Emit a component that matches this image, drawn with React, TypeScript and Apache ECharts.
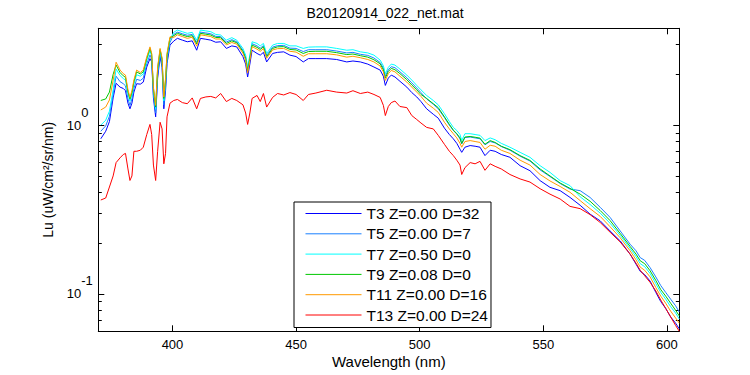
import { useEffect, useRef } from "react";
import * as echarts from "echarts";

const FONT = "Liberation Sans";

const wavelengths = [
  371, 373, 374.5, 376, 377.2, 378.8, 380.1, 381, 382, 382.8,
  383.6, 384.4, 385.5, 387, 388.2, 389.6, 390.9, 391.6, 392.3, 393.2,
  394, 395, 395.8, 396.5, 397.2, 397.8, 399,
  400.5, 402, 404, 406, 408, 409.8, 411.3, 413.5, 415.5, 417.5,
  419.5, 421.8, 424, 426, 428.5, 429.6, 430.4, 431.3, 432.2, 434.2,
  435.5, 436.8, 438.1, 440.5, 442.5, 445, 447.5, 450, 452.9, 455,
  458, 462.4, 466.4, 470.5, 473, 476, 479, 481.5, 484, 485.3,
  486.1, 487.3, 488.5, 490, 492, 494.8, 496.8, 498.8, 500.5,
  502.8, 505.5, 507.5, 510, 512, 513.6, 515, 516.3, 517, 518.3,
  520.4, 522.4, 524.4, 526.4, 528.5, 530.5, 533, 536.5, 540.6, 544.6,
  548.7, 552.7, 556.8, 560.8,
  564.9, 568.9, 573, 577, 581.1, 585.1, 587.5, 589.2, 591, 593.2, 595.5, 597.5, 599.5, 601.5, 603.5, 605,
];

const t3 = [
  0.83, 0.92, 1.05, 1.45, 1.77, 1.68, 1.65, 1.60, 1.35, 1.25,
  1.35, 1.57, 1.76, 1.75, 1.80, 2.21, 2.48, 2.37, 1.45, 1.12,
  1.90, 2.54, 2.20, 1.25, 1.60, 2.32, 2.98,
  3.15, 3.27, 3.19, 3.12, 3.16, 2.78, 3.27, 3.23, 3.19, 3.10,
  3.12, 2.85, 2.95, 2.91, 2.55, 2.30, 1.93, 2.30, 2.78, 2.66,
  2.60, 2.70, 2.37, 2.66, 2.70, 2.72, 2.60, 2.55, 2.37, 2.48,
  2.48, 2.48, 2.45, 2.37, 2.40, 2.37, 2.30, 2.21, 2.12, 1.95,
  1.72, 1.90, 1.98, 1.93, 1.82, 1.68, 1.56, 1.47, 1.38,
  1.25, 1.16, 1.10, 0.96, 0.88, 0.83, 0.78, 0.72, 0.69, 0.74,
  0.757, 0.75, 0.74, 0.66, 0.71, 0.70, 0.67, 0.645, 0.575, 0.537,
  0.469, 0.428, 0.409, 0.373,
  0.335, 0.297, 0.271, 0.236, 0.206, 0.172, 0.150, 0.136, 0.130, 0.119, 0.102, 0.090, 0.082, 0.073, 0.067, 0.062,
];

const t5 = [
  0.92, 0.99, 1.13, 1.53,
  1.95, 1.81, 1.76, 1.71, 1.43, 1.31, 1.43, 1.65, 1.87, 1.84, 1.90, 2.31, 2.61, 2.46, 1.52, 1.18, 1.99, 2.63, 2.29, 1.32, 1.69, 2.42, 3.09,
  3.45, 3.56, 3.48, 3.41, 3.45, 3.09, 3.56, 3.52, 3.48, 3.36,
  3.35, 3.11, 3.21, 3.12, 2.78, 2.53, 2.14, 2.53, 3.04, 2.95,
  2.86, 2.96, 2.59, 2.90, 2.96, 2.97, 2.86, 2.85, 2.73, 2.80,
  2.80, 2.80, 2.75, 2.68, 2.70, 2.63, 2.59, 2.50, 2.35, 2.18,
  1.95, 2.13, 2.22, 2.19, 2.07, 1.91, 1.78, 1.66, 1.56,
  1.43, 1.33, 1.25, 1.11, 1.00, 0.93, 0.885, 0.83, 0.774, 0.845,
  0.85, 0.84, 0.83, 0.765, 0.80, 0.785, 0.747, 0.71, 0.655, 0.613,
  0.543, 0.496, 0.451, 0.418,
  0.409, 0.373, 0.326, 0.284, 0.236, 0.197, 0.180, 0.164, 0.158, 0.143, 0.126, 0.112, 0.102, 0.093, 0.085, 0.078,
];

const t7 = [
  1.00, 1.07, 1.21, 1.62,
  2.15, 1.97, 1.89, 1.85, 1.53, 1.39, 1.51, 1.75, 1.99, 1.95, 2.01, 2.42, 2.76, 2.56, 1.60, 1.24, 2.10, 2.74, 2.40, 1.39, 1.80, 2.54, 3.21,
  3.55, 3.66, 3.58, 3.50, 3.55, 3.19, 3.66, 3.62, 3.58, 3.45,
  3.42, 3.19, 3.30, 3.19, 2.85, 2.60, 2.21, 2.60, 3.12, 3.05,
  2.95, 3.05, 2.66, 2.98, 3.05, 3.05, 2.95, 2.95, 2.85, 2.90,
  2.91, 2.91, 2.85, 2.78, 2.80, 2.72, 2.68, 2.60, 2.43, 2.25,
  2.02, 2.20, 2.30, 2.27, 2.15, 1.98, 1.85, 1.72, 1.62,
  1.50, 1.40, 1.32, 1.17, 1.05, 0.97, 0.93, 0.88, 0.81, 0.89,
  0.89, 0.88, 0.87, 0.81, 0.84, 0.82, 0.78, 0.74, 0.69, 0.645,
  0.575, 0.525, 0.469, 0.438,
  0.376, 0.339, 0.301, 0.262, 0.222, 0.186, 0.166, 0.151, 0.145, 0.132, 0.115, 0.102, 0.093, 0.084, 0.077, 0.071,
];

const t9 = [
  1.40, 1.43, 1.57, 2.00,
  2.27, 2.05, 1.96, 1.92, 1.58, 1.43, 1.56, 1.81, 2.07, 2.01, 2.07, 2.49, 2.85, 2.62, 1.65, 1.28, 2.16, 2.80, 2.46, 1.44, 1.86, 2.61, 3.29,
  3.39, 3.50, 3.42, 3.35, 3.39, 3.03, 3.50, 3.46, 3.42, 3.31,
  3.30, 3.05, 3.16, 3.08, 2.73, 2.48, 2.10, 2.48, 2.98, 2.89,
  2.81, 2.91, 2.54, 2.85, 2.91, 2.92, 2.81, 2.79, 2.66, 2.73,
  2.74, 2.74, 2.69, 2.62, 2.64, 2.58, 2.53, 2.44, 2.31, 2.13,
  1.90, 2.08, 2.17, 2.13, 2.02, 1.86, 1.73, 1.62, 1.52,
  1.44, 1.34, 1.27, 1.12, 1.01, 0.935, 0.89, 0.84, 0.78, 0.85,
  0.857, 0.848, 0.838, 0.77, 0.81, 0.79, 0.75, 0.716, 0.66, 0.618,
  0.55, 0.50, 0.454, 0.422,
  0.39, 0.354, 0.312, 0.272, 0.228, 0.191, 0.172, 0.157, 0.151, 0.137, 0.12, 0.106, 0.097, 0.088, 0.080, 0.074,
];

const t11 = [
  1.23, 1.28, 1.41, 1.84,
  2.36, 2.12, 2.02, 1.98, 1.62, 1.46, 1.60, 1.85, 2.12, 2.05, 2.12, 2.54, 2.91, 2.66, 1.68, 1.31, 2.21, 2.85, 2.50, 1.47, 1.90, 2.66, 3.34,
  3.31, 3.43, 3.35, 3.27, 3.32, 2.94, 3.43, 3.39, 3.35, 3.24,
  3.24, 2.99, 3.09, 3.02, 2.67, 2.42, 2.04, 2.42, 2.92, 2.82,
  2.74, 2.84, 2.49, 2.79, 2.84, 2.85, 2.74, 2.71, 2.56, 2.65,
  2.65, 2.65, 2.61, 2.53, 2.56, 2.51, 2.45, 2.37, 2.24, 2.07,
  1.84, 2.02, 2.11, 2.07, 1.95, 1.80, 1.68, 1.57, 1.48,
  1.35, 1.26, 1.19, 1.04, 0.95, 0.89, 0.84, 0.78, 0.74, 0.80,
  0.81, 0.80, 0.79, 0.72, 0.76, 0.75, 0.71, 0.68, 0.62, 0.58,
  0.51, 0.467, 0.433, 0.40,
  0.357, 0.32, 0.288, 0.25, 0.215, 0.18, 0.159, 0.144, 0.138, 0.126, 0.109, 0.097, 0.088, 0.079, 0.072, 0.067,
];

const t13 = [
  0.36, 0.37, 0.43, 0.50, 0.60, 0.64, 0.67, 0.68, 0.55, 0.47,
  0.50, 0.70, 0.70, 0.71, 0.74, 0.88, 1.01, 0.88, 0.58, 0.47,
  0.70, 1.04, 0.95, 0.59, 0.68, 1.12, 1.35,
  1.40, 1.42, 1.36, 1.34, 1.45, 1.25, 1.44, 1.47, 1.48, 1.45,
  1.54, 1.38, 1.44, 1.40, 1.32, 1.18, 1.01, 1.18, 1.44, 1.50,
  1.38, 1.54, 1.28, 1.46, 1.54, 1.51, 1.56, 1.52, 1.40, 1.52,
  1.55, 1.61, 1.57, 1.55, 1.60, 1.54, 1.57, 1.52, 1.46, 1.31,
  1.14, 1.29, 1.36, 1.39, 1.29, 1.27, 1.14, 1.08, 1.03,
  0.97, 0.95, 0.87, 0.77, 0.70, 0.66, 0.62, 0.58, 0.51, 0.56,
  0.60, 0.59, 0.61, 0.54, 0.59, 0.57, 0.55, 0.51, 0.48, 0.46,
  0.42, 0.39, 0.365, 0.33,
  0.32, 0.295, 0.265, 0.232, 0.203, 0.172, 0.152, 0.138, 0.128, 0.117, 0.104, 0.092, 0.082, 0.073, 0.065, 0.060,
];

const seriesNames = [
  "T3 Z=0.00 D=32",
  "T5 Z=0.00 D=7",
  "T7 Z=0.50 D=0",
  "T9 Z=0.08 D=0",
  "T11 Z=0.00 D=16",
  "T13 Z=0.00 D=24",
];
const seriesValues = [t3, t5, t7, t9, t11, t13];
const seriesColors = ["#0000ff", "#1a80ff", "#00ffff", "#00c800", "#ff9900", "#ff0000"];

const xTickValues = [400, 450, 500, 550, 600];
const yMajorTicks = [0.1, 1];
const yMinorTicks = [0.07, 0.08, 0.09, 0.2, 0.3, 0.4, 0.5, 0.6, 0.7, 0.8, 0.9, 2, 3];

const titleText = "B20120914_022_net.mat";
const xName = "Wavelength (nm)";
const yName = "Lu (uW/cm²/sr/nm)";

export default function App() {
  const ref = useRef<HTMLDivElement>(null);

  useEffect(() => {
    const chart = echarts.init(ref.current!, null, { renderer: "svg" });

    const logBase = { type: "log" as const, logBase: 10, min: 0.06, max: 3.75, splitLine: { show: false } };

    const yAxes = [
      {
        ...logBase,
        position: "left",
        name: yName,
        nameLocation: "middle",
        nameGap: 43,
        nameMoveOverlap: false,
        nameTextStyle: { fontFamily: FONT, fontSize: 14, color: "#000" },
        axisLine: { show: true, lineStyle: { color: "#000", width: 1 } },
        axisTick: { show: true, inside: true, length: 6, customValues: yMajorTicks, lineStyle: { color: "#000" } },
        axisLabel: {
          show: true,
          customValues: yMajorTicks,
          align: "left",
          margin: 31.6,
          formatter: (v: number) => `{b|10}{s|${Math.round(Math.log10(v))}}`,
          rich: {
            b: { fontFamily: FONT, fontSize: 13, color: "#000" },
            s: { fontFamily: FONT, fontSize: 13, color: "#000", padding: [0, 0, 26, 0] },
          },
        },
      },
      {
        ...logBase,
        position: "left",
        axisLine: { show: false },
        axisTick: { show: true, inside: true, length: 3.5, customValues: yMinorTicks, lineStyle: { color: "#000" } },
        axisLabel: { show: false },
      },
      {
        ...logBase,
        position: "right",
        axisLine: { show: true, lineStyle: { color: "#000", width: 1 } },
        axisTick: { show: true, inside: true, length: 6, customValues: yMajorTicks, lineStyle: { color: "#000" } },
        axisLabel: { show: false },
      },
      {
        ...logBase,
        position: "right",
        axisLine: { show: false },
        axisTick: { show: true, inside: true, length: 3.5, customValues: yMinorTicks, lineStyle: { color: "#000" } },
        axisLabel: { show: false },
      },
    ];

    const xAxes = [
      {
        type: "value",
        min: 370,
        max: 605,
        position: "bottom",
        name: xName,
        nameLocation: "middle",
        nameGap: 23,
        nameMoveOverlap: false,
        nameTextStyle: { fontFamily: FONT, fontSize: 15, color: "#000" },
        splitLine: { show: false },
        axisLine: { show: true, onZero: false, lineStyle: { color: "#000", width: 1 } },
        axisTick: { show: true, inside: true, length: 6, customValues: xTickValues, lineStyle: { color: "#000" } },
        axisLabel: { show: true, customValues: xTickValues, margin: 7, fontFamily: FONT, fontSize: 13, color: "#000" },
      },
      {
        type: "value",
        min: 370,
        max: 605,
        position: "top",
        splitLine: { show: false },
        axisLine: { show: true, onZero: false, lineStyle: { color: "#000", width: 1 } },
        axisTick: { show: true, inside: true, length: 6, customValues: xTickValues, lineStyle: { color: "#000" } },
        axisLabel: { show: false },
      },
    ];

    const series = seriesNames.map((name, i) => ({
      name,
      type: "line",
      xAxisIndex: 0,
      yAxisIndex: 0,
      data: wavelengths.map((w, j) => [w, seriesValues[i][j]]),
      showSymbol: false,
      symbol: "none",
      color: seriesColors[i],
      lineStyle: { color: seriesColors[i], width: 1 },
      clip: true,
      z: 2 + i,
    }));

    chart.setOption({
      animation: false,
      backgroundColor: "#fff",
      textStyle: { fontFamily: FONT },
      grid: { left: 98.3, right: 70.7, top: 28.3, bottom: 43.7, outerBoundsMode: "none" },
      graphic: [
        {
          type: "text",
          x: 385,
          y: 12.5,
          style: {
            text: titleText,
            fontFamily: FONT,
            fontSize: 14,
            fill: "#000",
            textAlign: "center",
            textVerticalAlign: "middle",
          },
        },
      ],
      legend: {
        orient: "vertical",
        left: 294,
        top: 202,
        padding: [3.5, 3, 4.5, 11],
        itemWidth: 56,
        itemHeight: 14,
        itemGap: 4.3,
        backgroundColor: "#fff",
        borderColor: "#000",
        borderWidth: 1,
        borderRadius: 0,
        selectedMode: false,
        itemStyle: { opacity: 0 },
        lineStyle: { width: 1, opacity: 1 },
        textStyle: { fontFamily: FONT, fontSize: 15.5, color: "#000", lineHeight: 15 },
        data: seriesNames,
      },
      xAxis: xAxes,
      yAxis: yAxes,
      series,
    });

    return () => chart.dispose();
  }, []);

  return (
    <div
      ref={ref}
      style={{ position: "fixed", left: 0, top: 0, width: 750, height: 375, background: "#fff" }}
    />
  );
}
